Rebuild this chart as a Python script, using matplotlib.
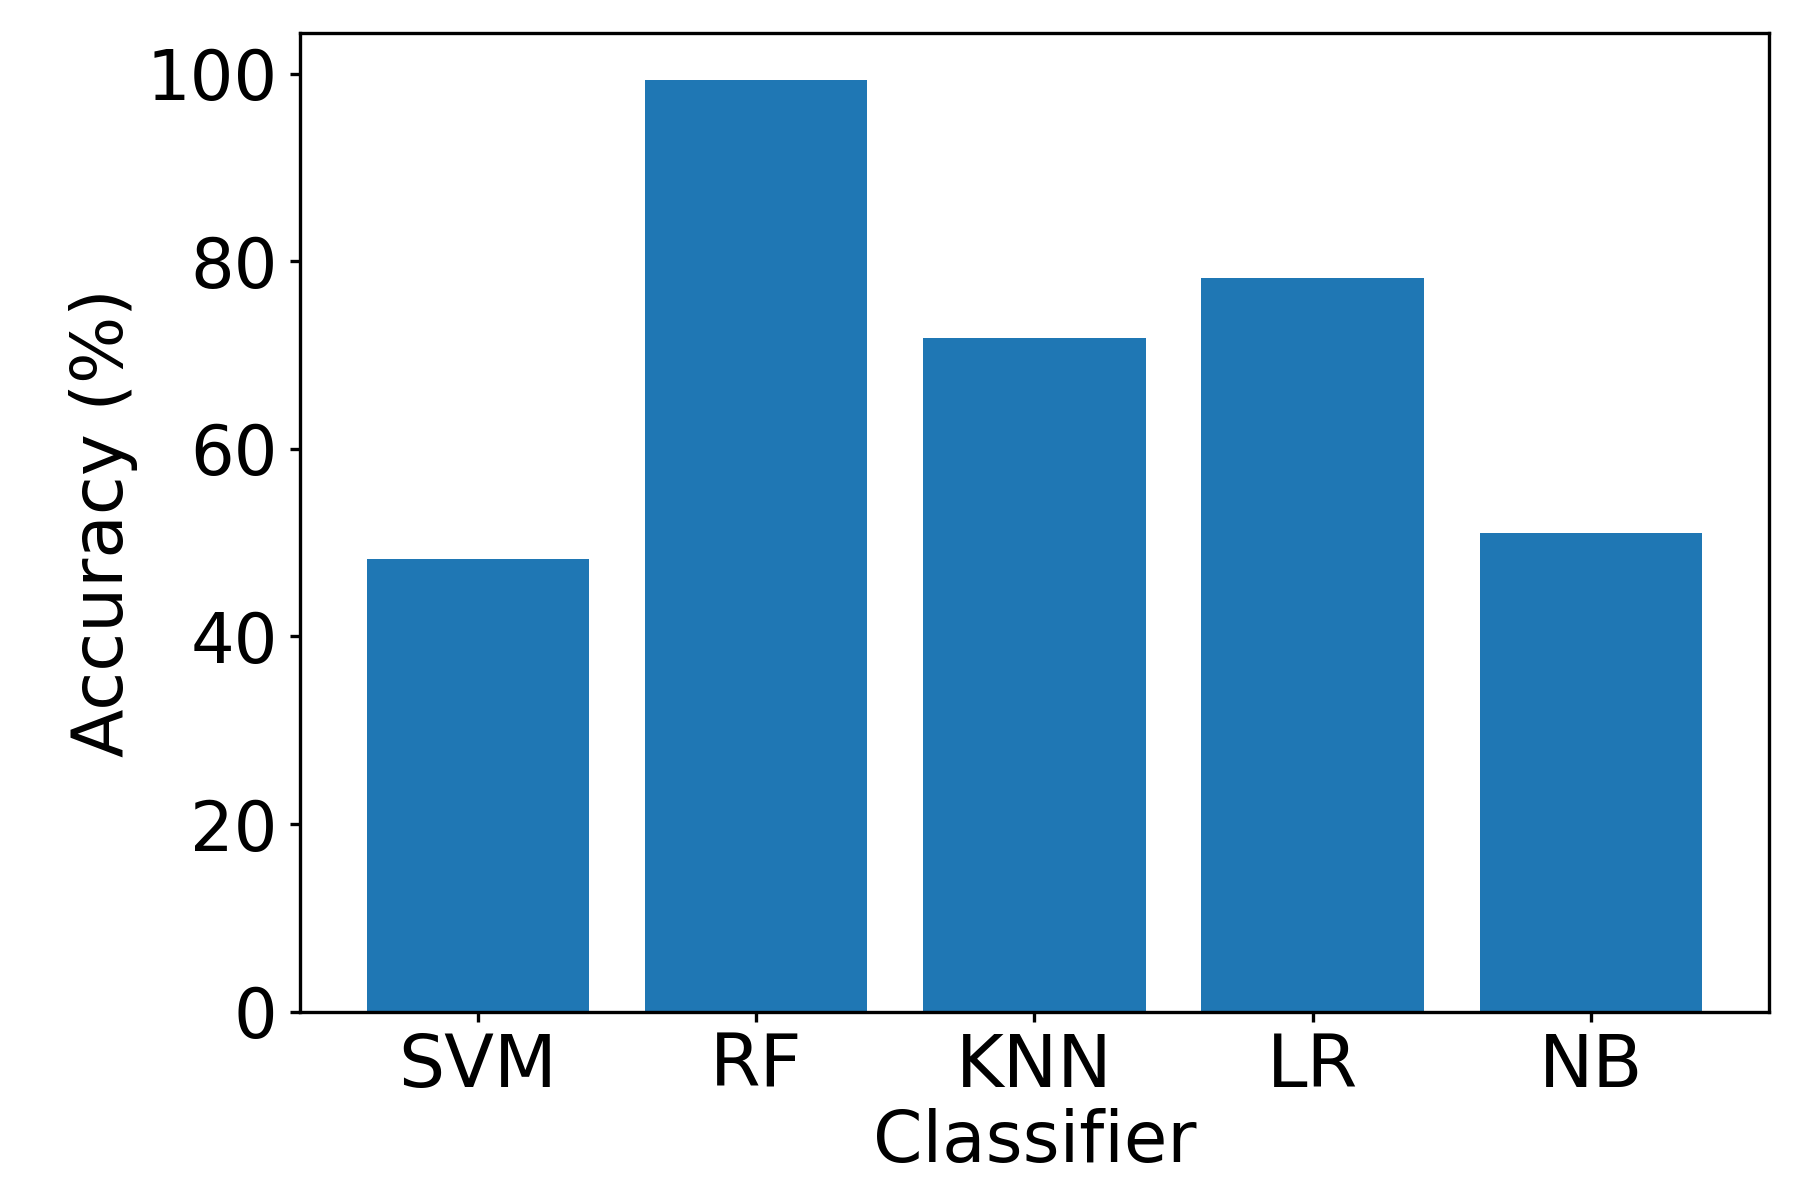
import matplotlib
matplotlib.use('Agg')
import matplotlib.pyplot as plt

classifiers = ['SVM', 'RF', 'KNN', 'LR', 'NB']
accuracy = [48.3, 99.3, 71.8, 78.2, 51.0]

plt.rcParams['font.size'] = 17

fig = plt.figure(figsize=(1795 / 300, 1196 / 300), dpi=300)
ax = fig.add_axes([0.167, 0.154, 0.8185, 0.818])
ax.bar(classifiers, accuracy, color='#1f77b4')
ax.set_xlabel('Classifier', labelpad=1.5)
ax.set_ylabel('Accuracy (%)', labelpad=2)
ax.set_yticks([0, 20, 40, 60, 80, 100])
ax.tick_params(axis='x', labelsize=17.5, length=2.5, pad=2)
ax.tick_params(axis='y', labelsize=16.5, length=2.5, pad=2.8)

fig.savefig('out.png', dpi=300)
